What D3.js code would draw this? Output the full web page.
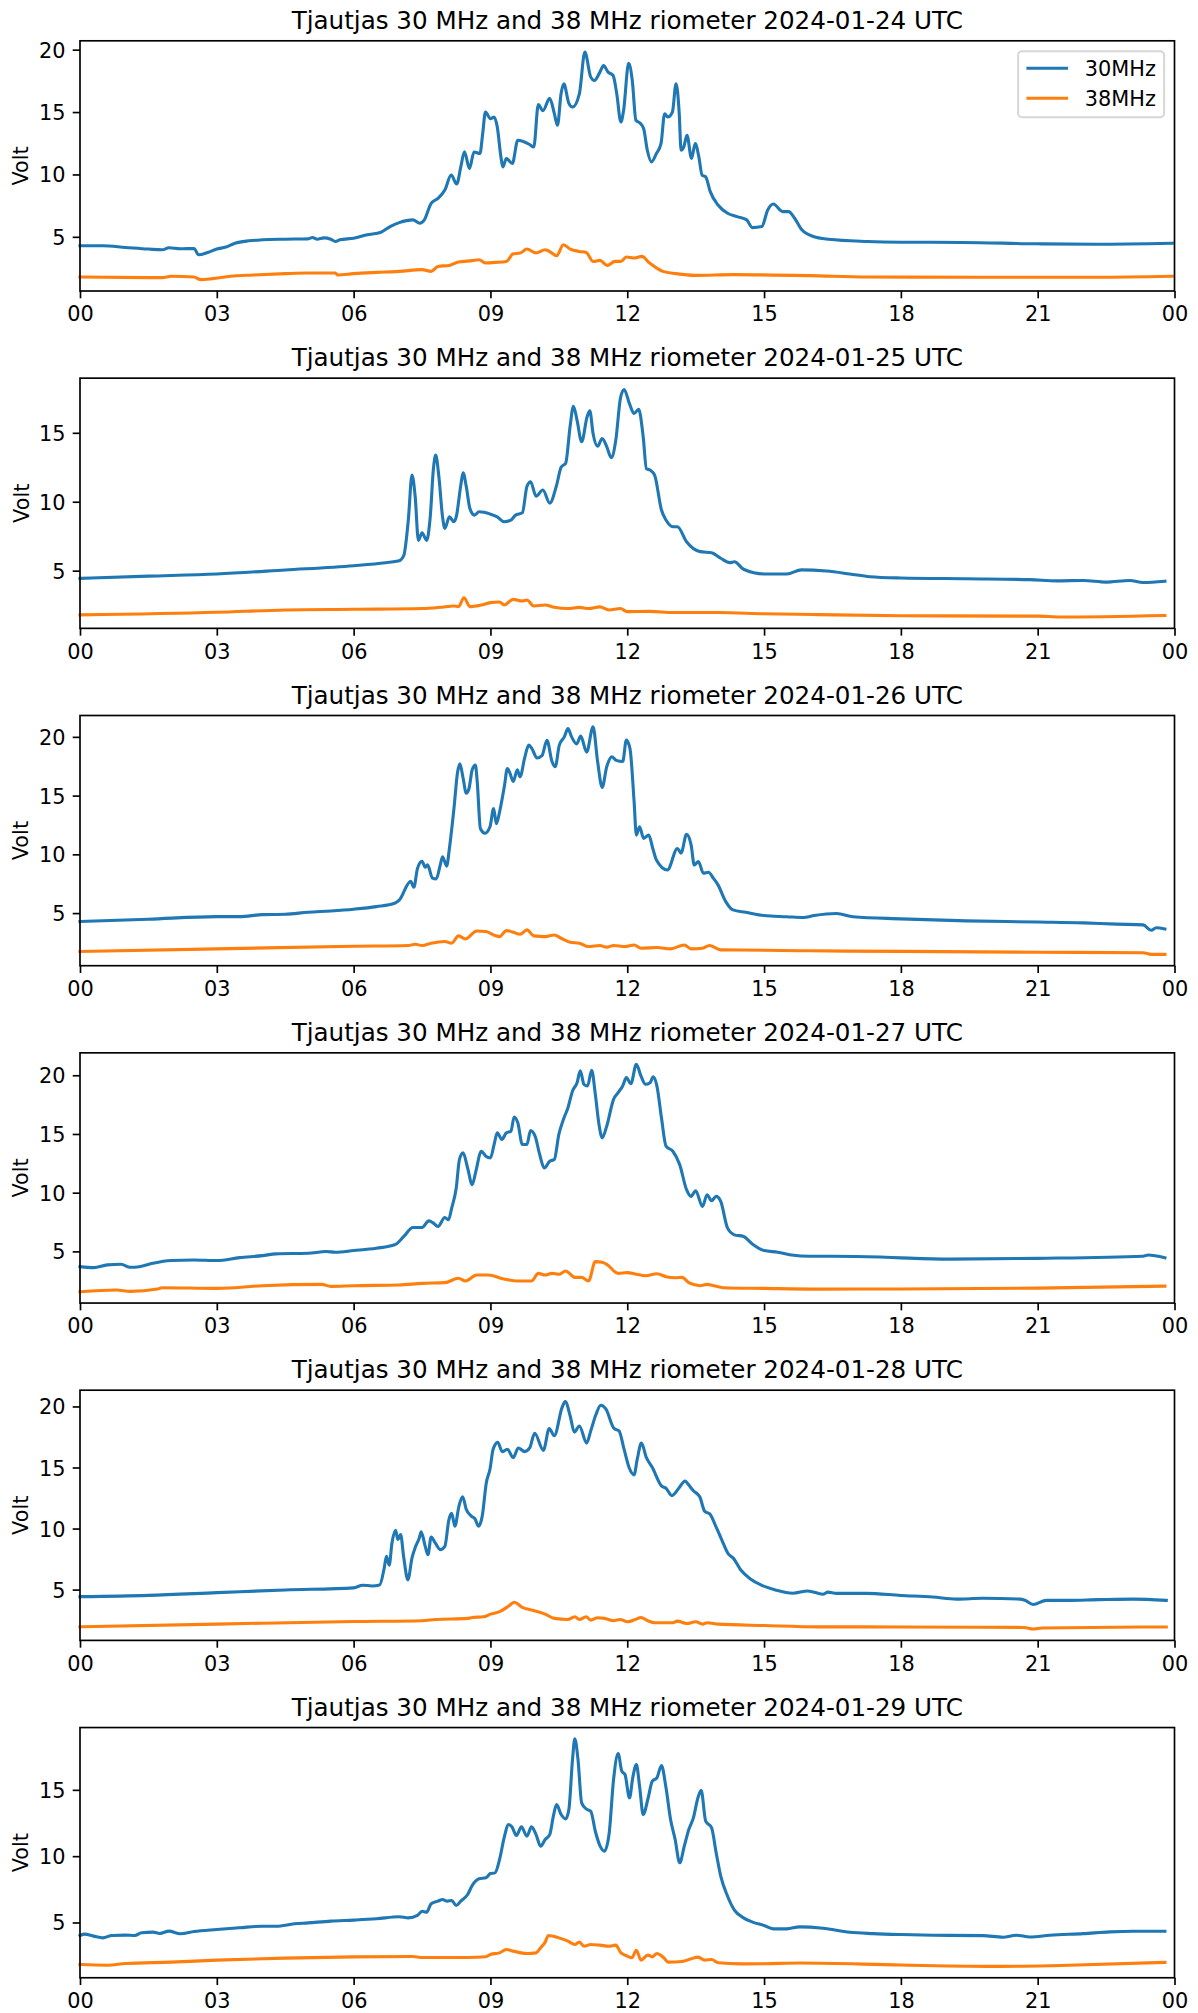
<!DOCTYPE html>
<html><head><meta charset="utf-8">
<script src="https://cdn.jsdelivr.net/npm/d3@7"></script>
<style>body{margin:0;background:#fff} svg{display:block} text{font-family:"DejaVu Sans",sans-serif;fill:#000}</style>
</head><body><script>
// ---------- data (hour of day, volt) ----------
const dates = ["2024-01-24","2024-01-25","2024-01-26","2024-01-27","2024-01-28","2024-01-29"];
const seriesNames = ["30MHz","38MHz"];
const xTickValues = [0,3,6,9,12,15,18,21,24];
const xTickLabels = ["00","03","06","09","12","15","18","21","00"];
const yTickValues = [5,10,15,20];

const d24_30 = [[0,4.28],[0.5,4.28],[1,4.15],[1.5,4.02],[1.8,3.96],[1.95,4.12],[2.2,4.04],[2.5,4.07],[2.6,3.56],[2.8,3.75],[3,4.02],[3.2,4.18],[3.4,4.49],[3.7,4.68],[4,4.76],[4.5,4.81],[5,4.84],[5.1,4.95],[5.2,4.81],[5.35,4.92],[5.5,4.81],[5.6,4.63],[5.7,4.76],[6,4.89],[6.3,5.16],[6.6,5.37],[6.8,5.82],[7,6.14],[7.3,6.36],[7.45,6.09],[7.55,6.36],[7.7,7.69],[7.85,8.09],[8,8.75],[8.14,9.95],[8.26,9.23],[8.35,10.6],[8.43,11.81],[8.54,10.48],[8.64,11.8],[8.77,11.68],[8.83,13.27],[8.89,15.0],[9.0,14.47],[9.08,14.6],[9.15,13.8],[9.23,11.4],[9.27,10.6],[9.35,11.27],[9.48,10.88],[9.6,12.74],[9.85,12.42],[9.95,12.2],[10.05,15.6],[10.15,15.1],[10.3,16.1],[10.4,14.9],[10.47,13.94],[10.55,16.5],[10.61,17.26],[10.72,15.7],[10.8,15.4],[10.95,16.46],[11.07,19.8],[11.2,17.8],[11.28,17.53],[11.4,18.2],[11.48,18.72],[11.58,18.2],[11.69,17.93],[11.77,16.46],[11.86,14.2],[11.92,15.13],[12.03,18.91],[12.11,17.53],[12.19,14.34],[12.28,14.12],[12.36,13.67],[12.44,11.94],[12.53,11.01],[12.64,11.68],[12.74,12.47],[12.82,14.87],[12.89,14.6],[12.99,15.0],[13.07,17.26],[13.14,14.87],[13.18,11.94],[13.24,12.21],[13.31,13.14],[13.41,11.28],[13.49,12.47],[13.57,11.41],[13.64,9.95],[13.72,9.81],[13.82,8.62],[13.99,7.55],[14.2,6.89],[14.41,6.62],[14.62,6.36],[14.74,5.74],[14.95,5.82],[15.08,7.15],[15.2,7.63],[15.41,7.02],[15.54,7.02],[15.67,6.49],[15.83,5.56],[16.08,5.03],[16.42,4.81],[17.26,4.63],[18,4.57],[19.35,4.55],[21,4.44],[22.28,4.41],[23.95,4.49]];
const d24_38 = [[0,1.78],[1.5,1.73],[1.8,1.73],[2,1.84],[2.5,1.78],[2.65,1.57],[2.9,1.65],[3.3,1.84],[3.8,1.94],[4.5,2.05],[5,2.1],[5.6,2.1],[5.65,1.94],[6,2.05],[6.5,2.15],[7,2.23],[7.5,2.37],[7.7,2.23],[7.85,2.63],[8.1,2.71],[8.3,2.98],[8.6,3.09],[8.75,3.16],[8.9,2.9],[9.1,2.95],[9.35,3.03],[9.5,3.64],[9.65,3.7],[9.8,4.02],[10,3.7],[10.2,3.96],[10.35,3.7],[10.45,3.48],[10.6,4.36],[10.75,4.02],[10.95,3.83],[11.1,3.75],[11.25,3.03],[11.4,3.11],[11.56,2.71],[11.73,3.03],[11.86,3.03],[11.98,3.38],[12.15,3.3],[12.32,3.43],[12.49,2.9],[12.78,2.23],[13.07,2.05],[13.49,1.91],[14.33,1.97],[16,1.89],[17.26,1.78],[19.77,1.76],[22.28,1.76],[23.95,1.84]];

const d25_30 = [[0,4.44],[1.5,4.6],[3,4.76],[4.5,5.05],[6,5.36],[6.7,5.58],[7,5.72],[7.1,6.1],[7.2,8.7],[7.28,11.93],[7.35,10.36],[7.42,7.2],[7.5,7.75],[7.6,7.2],[7.68,8.9],[7.75,12.4],[7.8,13.38],[7.87,11.8],[7.95,8.9],[8,8.07],[8.1,8.9],[8.2,8.55],[8.25,8.9],[8.35,11.2],[8.4,12.1],[8.47,11.1],[8.55,9.5],[8.65,9.03],[8.75,9.27],[9,9.1],[9.15,8.9],[9.3,8.55],[9.45,8.67],[9.55,9.03],[9.7,9.2],[9.8,11.1],[9.88,11.45],[10,10.4],[10.15,10.85],[10.3,9.9],[10.45,11.2],[10.55,12.5],[10.65,12.8],[10.75,15.55],[10.82,16.93],[10.9,15.9],[11,14.35],[11.12,16.16],[11.18,16.6],[11.25,14.95],[11.35,14.03],[11.45,14.59],[11.55,14.0],[11.65,13.2],[11.75,14.5],[11.85,17.5],[11.93,18.14],[12.05,17.1],[12.15,16.4],[12.25,16.7],[12.35,14.7],[12.42,12.4],[12.5,12.3],[12.6,11.93],[12.75,9.4],[12.85,8.67],[13,8.19],[13.1,8.19],[13.3,7.1],[13.6,6.38],[13.85,6.3],[14.05,5.9],[14.25,5.58],[14.35,5.65],[14.55,5.1],[15,4.76],[15.5,4.76],[15.82,5.06],[16.37,4.97],[16.88,4.76],[17.32,4.56],[18,4.47],[19.44,4.41],[20.83,4.35],[21.41,4.26],[22,4.29],[22.5,4.17],[23.02,4.29],[23.31,4.14],[23.79,4.23]];
const d25_38 = [[0,1.79],[3,1.98],[4.5,2.15],[6,2.2],[7.5,2.25],[7.9,2.34],[8.2,2.44],[8.3,2.39],[8.42,3.04],[8.55,2.39],[8.8,2.51],[9,2.68],[9.2,2.73],[9.3,2.51],[9.5,2.92],[9.7,2.8],[9.8,2.87],[9.95,2.44],[10.2,2.51],[10.4,2.34],[10.7,2.25],[10.95,2.34],[11.15,2.25],[11.4,2.37],[11.6,2.15],[11.85,2.25],[12,2.03],[12.5,2.05],[13,1.96],[14,1.96],[15,1.87],[16.2,1.81],[18,1.73],[21,1.7],[21.5,1.64],[23.79,1.75]];

const d26_30 = [[0,4.28],[1.5,4.48],[3,4.7],[3.5,4.7],[4,4.87],[4.5,4.9],[5,5.07],[5.5,5.18],[6,5.33],[6.5,5.55],[6.9,5.84],[7.0,6.1],[7.25,7.7],[7.32,7.2],[7.4,8.8],[7.5,9.4],[7.57,8.9],[7.62,9.1],[7.73,7.97],[7.81,7.9],[7.9,9.1],[7.95,9.8],[8.04,9.0],[8.1,10.5],[8.2,13.9],[8.28,17.0],[8.33,17.7],[8.4,16.5],[8.47,15.2],[8.53,15.6],[8.6,17.2],[8.67,17.6],[8.71,16.2],[8.78,12.2],[8.88,11.8],[8.99,12.35],[9.07,13.9],[9.13,12.6],[9.2,13.6],[9.31,15.9],[9.37,17.3],[9.42,17.0],[9.5,16.2],[9.59,17.2],[9.65,16.6],[9.75,18.2],[9.84,19.3],[9.91,19.0],[10.02,18.2],[10.13,18.4],[10.24,19.7],[10.35,17.9],[10.42,17.45],[10.51,19.3],[10.62,20.0],[10.7,20.7],[10.78,20.0],[10.89,19.4],[10.98,20.06],[11.11,18.7],[11.25,20.85],[11.35,17.9],[11.45,15.7],[11.55,17.45],[11.66,18.3],[11.76,18.0],[11.9,17.9],[11.98,19.72],[12.06,19.0],[12.15,14.5],[12.2,11.64],[12.27,12.35],[12.36,11.36],[12.47,11.64],[12.56,10.5],[12.64,9.52],[12.88,8.67],[13.1,10.5],[13.18,10.1],[13.3,11.7],[13.4,10.8],[13.47,9.09],[13.56,9.38],[13.67,8.39],[13.78,8.47],[13.89,7.96],[13.99,7.4],[14.16,5.98],[14.32,5.27],[14.6,5.07],[15,4.79],[15.5,4.69],[15.86,4.62],[16.1,4.79],[16.59,4.96],[16.95,4.69],[18,4.51],[19.44,4.34],[21,4.24],[22,4.17],[22.72,4.06],[23.31,4.0],[23.49,3.54],[23.6,3.75],[23.79,3.65]];
const d26_38 = [[0,1.73],[3,1.95],[6,2.18],[7.2,2.24],[7.35,2.35],[7.5,2.24],[7.7,2.44],[8,2.58],[8.15,2.44],[8.3,3.06],[8.45,2.8],[8.7,3.48],[8.9,3.43],[9.1,3.09],[9.2,3.0],[9.35,3.51],[9.5,3.37],[9.65,3.2],[9.8,3.57],[9.95,3.06],[10.2,3.0],[10.4,3.14],[10.55,2.86],[10.75,2.52],[10.95,2.44],[11.15,2.15],[11.4,2.24],[11.55,2.1],[11.7,2.24],[11.95,2.15],[12.15,2.29],[12.3,2.01],[12.65,2.07],[12.95,1.95],[13.25,2.29],[13.4,1.95],[13.65,2.01],[13.8,2.24],[14.05,1.87],[15,1.84],[16,1.79],[18,1.74],[21,1.67],[23.31,1.63],[23.49,1.49],[23.79,1.49]];

const d27_30 = [[0,3.7],[0.3,3.62],[0.6,3.85],[0.9,3.9],[1.1,3.65],[1.3,3.7],[1.6,3.99],[2,4.22],[2.5,4.27],[3,4.22],[3.5,4.47],[4,4.64],[4.3,4.79],[5,4.84],[5.4,4.99],[5.6,4.93],[6,5.07],[6.5,5.27],[6.9,5.56],[7.1,6.27],[7.3,7.04],[7.5,7.04],[7.65,7.6],[7.75,7.41],[7.85,7.12],[8,7.89],[8.08,7.69],[8.15,8.69],[8.25,10.4],[8.32,12.82],[8.4,13.39],[8.5,12.1],[8.6,10.68],[8.68,11.82],[8.8,13.53],[8.9,13.1],[9,12.96],[9.08,14.1],[9.15,15.1],[9.25,14.53],[9.35,15.1],[9.45,15.24],[9.52,16.44],[9.6,15.95],[9.7,14.1],[9.8,14.1],[9.88,15.3],[9.98,14.81],[10.08,13.25],[10.18,12.1],[10.3,12.68],[10.4,12.82],[10.5,14.96],[10.6,16.24],[10.7,17.24],[10.8,18.66],[10.9,19.37],[10.97,20.37],[11.05,19.23],[11.13,19.09],[11.22,20.43],[11.3,18.38],[11.38,15.81],[11.45,14.67],[11.55,15.67],[11.7,17.95],[11.8,18.52],[11.9,19.09],[11.98,19.8],[12.08,19.29],[12.2,20.94],[12.3,19.94],[12.4,19.23],[12.5,19.37],[12.57,19.86],[12.65,19.09],[12.75,16.38],[12.85,13.96],[13,13.53],[13.15,12.39],[13.3,10.26],[13.4,9.69],[13.5,10.17],[13.65,8.83],[13.75,9.83],[13.85,9.32],[13.95,9.69],[14.05,9.26],[14.2,6.98],[14.35,6.41],[14.55,6.27],[14.75,5.61],[15,5.07],[15.3,4.93],[15.6,4.7],[16,4.59],[16.51,4.59],[17.54,4.52],[18,4.45],[19.07,4.34],[21,4.41],[23.31,4.59],[23.42,4.69],[23.79,4.45]];
const d27_38 = [[0,1.57],[0.8,1.71],[1.1,1.6],[1.7,1.79],[1.8,1.91],[3,1.85],[4,2.08],[5.3,2.19],[5.5,2.02],[6,2.08],[7,2.14],[7.5,2.28],[8,2.34],[8.3,2.71],[8.45,2.48],[8.7,2.99],[8.95,2.99],[9.3,2.65],[9.6,2.48],[9.9,2.48],[10.05,3.13],[10.2,2.99],[10.35,3.13],[10.5,3.05],[10.65,3.33],[10.85,2.79],[11,2.79],[11.15,2.48],[11.3,4.13],[11.45,4.07],[11.55,3.9],[11.8,3.13],[12,3.19],[12.2,3.05],[12.4,2.93],[12.65,3.1],[12.85,2.85],[13.05,2.76],[13.2,2.79],[13.35,2.34],[13.6,2.08],[13.75,2.19],[13.9,2.08],[14.1,1.91],[15,1.85],[16.2,1.79],[18,1.8],[21,1.87],[23.79,2.04]];

const d28_30 = [[0,4.42],[1.5,4.53],[3,4.75],[4.5,4.97],[6,5.14],[6.2,5.36],[6.4,5.3],[6.57,5.38],[6.67,6.75],[6.72,7.72],[6.78,7.0],[6.84,8.8],[6.92,9.86],[6.97,9.1],[7.03,9.5],[7.1,7.6],[7.19,5.8],[7.28,7.6],[7.36,8.54],[7.44,9.23],[7.48,9.73],[7.57,8.54],[7.63,7.86],[7.7,9.31],[7.79,8.82],[7.9,8.27],[8.0,8.54],[8.09,10.74],[8.15,11.24],[8.22,10.19],[8.31,11.84],[8.39,12.61],[8.47,11.57],[8.58,11.02],[8.66,10.8],[8.74,10.19],[8.82,11.02],[8.91,13.76],[8.99,14.86],[9.06,16.51],[9.16,17.06],[9.26,16.3],[9.37,16.5],[9.5,15.8],[9.61,16.6],[9.75,16.3],[9.86,16.6],[9.97,17.8],[10.16,16.4],[10.29,18.2],[10.4,17.6],[10.57,19.9],[10.64,20.4],[10.75,19.2],[10.84,17.9],[10.95,18.4],[11.11,17.0],[11.2,18.0],[11.31,19.3],[11.42,20.1],[11.53,19.8],[11.71,18.2],[11.82,18.0],[11.93,16.5],[12.04,15.0],[12.15,14.4],[12.22,15.7],[12.31,17.0],[12.42,15.8],[12.55,15.0],[12.75,13.5],[12.85,13.3],[12.98,12.7],[13.13,13.3],[13.27,13.9],[13.34,13.6],[13.45,13.1],[13.59,12.6],[13.7,11.4],[13.81,11.2],[13.94,10.2],[14.07,9.1],[14.22,7.9],[14.32,7.6],[14.49,6.6],[14.71,5.85],[14.92,5.4],[15.25,4.97],[15.63,4.7],[15.96,4.89],[16.29,4.62],[16.4,4.79],[16.59,4.69],[17.24,4.69],[18,4.52],[18.7,4.39],[19.22,4.22],[19.8,4.29],[20.61,4.22],[20.72,4.12],[20.9,3.78],[21.19,4.12],[21.63,4.12],[22.36,4.18],[23.09,4.22],[23.82,4.12]];
const d28_38 = [[0,1.95],[3,2.17],[6,2.39],[7.5,2.45],[7.8,2.55],[8.5,2.64],[8.6,2.72],[8.85,2.77],[9,2.99],[9.2,3.19],[9.4,3.65],[9.52,3.96],[9.7,3.54],[9.9,3.32],[10.2,2.99],[10.4,2.64],[10.7,2.55],[10.85,2.77],[10.95,2.55],[11.1,2.77],[11.2,2.5],[11.35,2.69],[11.5,2.64],[11.7,2.45],[11.85,2.55],[12,2.36],[12.2,2.58],[12.3,2.72],[12.45,2.45],[12.6,2.28],[13,2.28],[13.1,2.42],[13.3,2.22],[13.5,2.36],[13.65,2.17],[13.75,2.28],[14,2.17],[15,2.06],[16.2,1.95],[18,1.94],[20.7,1.9],[20.9,1.77],[21.1,1.85],[23.82,1.94]];

const d29_30 = [[0,4.02],[0.1,4.12],[0.3,3.97],[0.5,3.84],[0.7,4.02],[1,4.05],[1.2,4.02],[1.35,4.22],[1.6,4.27],[1.75,4.17],[1.95,4.35],[2.2,4.15],[2.5,4.32],[3,4.47],[3.5,4.6],[4,4.72],[4.3,4.72],[4.7,4.9],[5,4.97],[5.5,5.1],[6,5.18],[6.5,5.28],[7,5.43],[7.2,5.35],[7.4,5.53],[7.5,5.85],[7.6,5.78],[7.7,6.41],[7.85,6.61],[7.95,6.73],[8.05,6.61],[8.15,6.66],[8.25,6.28],[8.35,6.61],[8.5,7.11],[8.6,7.79],[8.75,8.29],[8.9,8.37],[9,8.69],[9.1,8.74],[9.2,9.75],[9.3,11.38],[9.4,12.39],[9.47,12.21],[9.57,11.56],[9.68,12.21],[9.8,11.51],[9.9,12.21],[10,11.63],[10.1,10.75],[10.2,11.26],[10.3,11.63],[10.38,13.02],[10.45,13.89],[10.55,13.14],[10.65,12.81],[10.72,13.52],[10.8,17.29],[10.85,18.84],[10.92,17.29],[11,14.02],[11.1,13.57],[11.2,13.39],[11.3,11.88],[11.4,10.8],[11.5,10.38],[11.6,11.63],[11.7,15.78],[11.8,17.74],[11.88,16.41],[11.95,16.16],[12.05,14.4],[12.12,15.9],[12.2,16.91],[12.27,15.28],[12.35,13.14],[12.45,14.27],[12.55,15.65],[12.65,15.9],[12.75,16.83],[12.85,15.15],[12.95,12.76],[13.05,11.26],[13.15,9.5],[13.25,10.75],[13.35,12.01],[13.45,12.89],[13.55,14.4],[13.62,14.97],[13.72,12.64],[13.85,12.14],[13.95,10.25],[14.05,8.49],[14.2,6.98],[14.35,5.93],[14.55,5.35],[14.75,5.03],[15,4.77],[15.2,4.52],[15.5,4.52],[15.78,4.67],[16.29,4.57],[16.88,4.26],[17.39,4.16],[18,4.09],[18.71,4.04],[19.8,4.01],[20.24,3.89],[20.53,4.04],[20.83,3.91],[21.27,4.04],[22,4.16],[22.58,4.29],[23.09,4.34],[23.79,4.34]];
const d29_38 = [[0,1.83],[0.6,1.78],[1,1.91],[2,2.01],[3,2.16],[4.5,2.31],[6,2.41],[7.3,2.44],[7.5,2.36],[8.5,2.36],[8.9,2.41],[9,2.59],[9.2,2.71],[9.35,2.96],[9.5,2.84],[9.8,2.66],[10,2.71],[10.1,3.09],[10.2,3.52],[10.27,4.02],[10.5,3.84],[10.7,3.59],[10.85,3.34],[10.95,3.52],[11.05,3.21],[11.2,3.34],[11.4,3.29],[11.6,3.21],[11.75,3.29],[11.85,2.76],[12,2.46],[12.1,2.34],[12.2,2.91],[12.3,2.16],[12.45,2.54],[12.55,2.41],[12.65,2.66],[12.8,2.34],[12.9,2.01],[13.2,2.06],[13.4,2.26],[13.55,2.39],[13.7,2.16],[13.85,2.21],[14,1.96],[14.5,1.88],[15,1.89],[15.8,1.94],[18,1.79],[20.2,1.69],[21.5,1.76],[23.79,1.99]];

const series30 = [d24_30,d25_30,d26_30,d27_30,d28_30,d29_30];
const series38 = [d24_38,d25_38,d26_38,d27_38,d28_38,d29_38];
const colors = ["#1f77b4","#ff7f0e"];

// ---------- layout ----------
const W=1198, H=2013;
const L=80, R=1174.5, T0=40.8, PH=250.2, STEP=337.35;
const FS=20.83, TFS=24.6, LW=3.1, SW=1.67, TL=7.3;

const svg=d3.select("body").append("svg").attr("width",W).attr("height",H);
svg.append("rect").attr("width",W).attr("height",H).attr("fill","#fff");
const x=d3.scaleLinear().domain([0,24]).range([L,R]);

dates.forEach((date,i)=>{
  const top=T0+i*STEP, bot=top+PH;
  const s=[series30[i],series38[i]];
  const vals=s[0].concat(s[1]).map(d=>d[1]);
  const mn=d3.min(vals), mx=d3.max(vals), m=(mx-mn)*0.05;
  const y=d3.scaleLinear().domain([mn-m,mx+m]).range([bot,top]);
  const g=svg.append("g");
  const line=d3.line().x(d=>x(d[0])).y(d=>y(d[1])).curve(d3.curveMonotoneX);
  s.forEach((ser,k)=>{
    g.append("path").datum(ser).attr("d",line).attr("fill","none")
      .attr("stroke",colors[k]).attr("stroke-width",LW)
      .attr("stroke-linejoin","round").attr("stroke-linecap","square");
  });
  // x axis
  const xa=g.append("g").attr("transform",`translate(0,${bot})`)
    .call(d3.axisBottom(x).tickValues(xTickValues).tickFormat((d,j)=>xTickLabels[j]).tickSize(TL).tickPadding(8.3));
  xa.select(".domain").remove();
  xa.selectAll("line").attr("stroke","#000").attr("stroke-width",SW);
  xa.selectAll("text").attr("font-size",FS).attr("font-family","DejaVu Sans").attr("fill","#000");
  // y axis
  const yt=yTickValues.filter(v=>v>=y.domain()[0]&&v<=y.domain()[1]);
  const ya=g.append("g").attr("transform",`translate(${L},0)`)
    .call(d3.axisLeft(y).tickValues(yt).tickFormat(d3.format("d")).tickSize(TL).tickPadding(7.3));
  ya.select(".domain").remove();
  ya.selectAll("line").attr("stroke","#000").attr("stroke-width",SW);
  ya.selectAll("text").attr("font-size",FS).attr("font-family","DejaVu Sans").attr("fill","#000").attr("dy","0.36em");
  // spines
  g.append("rect").attr("x",L).attr("y",top).attr("width",R-L).attr("height",PH)
    .attr("fill","none").attr("stroke","#000").attr("stroke-width",SW);
  // title
  g.append("text").attr("x",(L+R)/2).attr("y",top-12).attr("text-anchor","middle")
    .attr("font-size",TFS).text(`Tjautjas 30 MHz and 38 MHz riometer ${date} UTC`);
  // y label
  const my=(top+bot)/2;
  g.append("text").attr("x",28.5).attr("y",my).attr("text-anchor","middle")
    .attr("transform",`rotate(-90,28.5,${my})`).attr("font-size",FS).text("Volt");
  // legend (first panel only)
  if(i===0){
    const lw=146, lh=66, lx=R-10.4-lw, ly=top+10.4;
    const lg=g.append("g");
    lg.append("rect").attr("x",lx).attr("y",ly).attr("width",lw).attr("height",lh).attr("rx",4)
      .attr("fill","rgba(255,255,255,0.8)").attr("stroke","rgba(204,204,204,0.8)").attr("stroke-width",2);
    seriesNames.forEach((nm,k)=>{
      const cy=ly+17+k*30;
      lg.append("line").attr("x1",lx+8.3).attr("x2",lx+8.3+41.7).attr("y1",cy).attr("y2",cy)
        .attr("stroke",colors[k]).attr("stroke-width",LW);
      lg.append("text").attr("x",lx+8.3+41.7+16.7).attr("y",cy).attr("dy","0.36em")
        .attr("font-size",FS).text(nm);
    });
  }
});
</script></body></html>
